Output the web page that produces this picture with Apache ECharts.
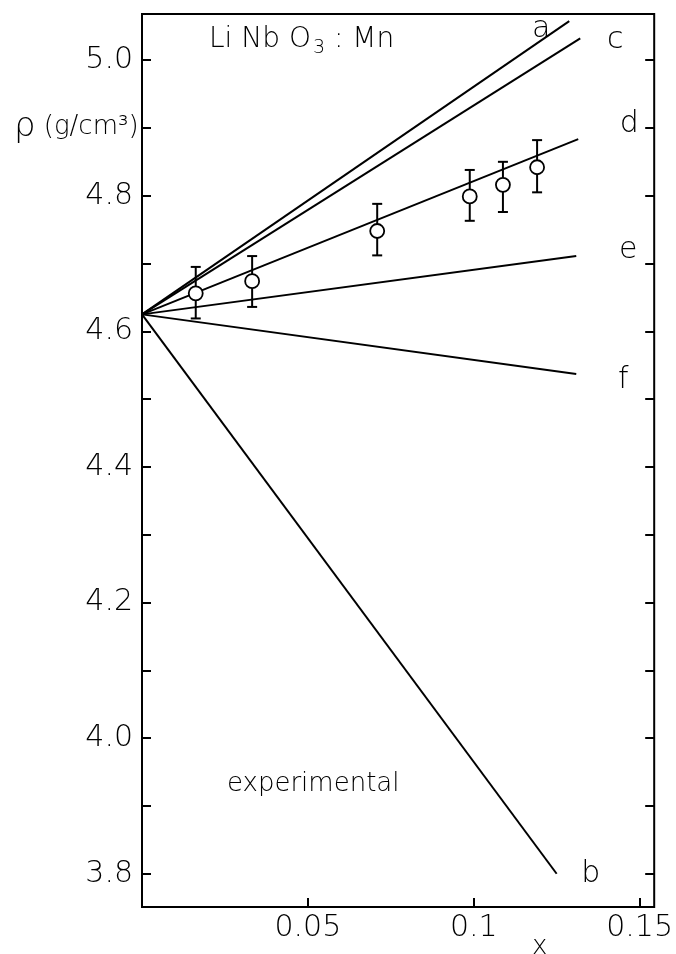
<!DOCTYPE html>
<html>
<head>
<meta charset="utf-8">
<script src="https://cdn.jsdelivr.net/npm/echarts@6/dist/echarts.min.js"></script>
<style>
html,body{margin:0;padding:0;background:#fff;}
#chart{width:676px;height:954px;}
</style>
</head>
<body>
<div id="chart"></div>
<script>
// ---- data ----
const xRange = [0, 0.1544];
const yRange = [3.751, 5.068];
const xTickValues = [0.05, 0.1, 0.15];
const yTickValues = [3.8, 3.9, 4.0, 4.1, 4.2, 4.3, 4.4, 4.5, 4.6, 4.7, 4.8, 4.9, 5.0];
const yLabelValues = [3.8, 4.0, 4.2, 4.4, 4.6, 4.8, 5.0];

const lineOrigin = [0, 4.625];
const lineNames = ['a', 'c', 'd', 'e', 'f', 'b'];
const lineEndX = [0.1288, 0.1321, 0.1315, 0.1309, 0.1309, 0.1250];
const lineEndY = [5.0575, 5.032, 4.8835, 4.711, 4.537, 3.800];

const expX = [0.0162, 0.0332, 0.0709, 0.0988, 0.1088, 0.1191];
const expY = [4.656, 4.674, 4.748, 4.799, 4.816, 4.842];
const expLow = [4.619, 4.636, 4.712, 4.763, 4.776, 4.805];
const expHigh = [4.695, 4.711, 4.788, 4.838, 4.850, 4.882];

// ---- styles ----
const FONT = '"DejaVu Sans"';
const FW = 200;
const labelOffsets = { a: [-28, 8], c: [35, 2], d: [51, -15], e: [52, -6], f: [47, 6], b: [34, 0] };

const lineSeries = lineNames.map((n, i) => ({
  name: n,
  type: 'line',
  symbol: 'none',
  silent: true,
  animation: false,
  lineStyle: { color: '#000', width: 2 },
  data: [lineOrigin, [lineEndX[i], lineEndY[i]]],
  endLabel: {
    show: true,
    formatter: n,
    distance: 0,
    align: 'center',
    verticalAlign: 'middle',
    offset: labelOffsets[n],
    color: '#000',
    fontFamily: FONT,
    fontWeight: FW,
    fontSize: 30
  }
}));

const errData = expX.map((x, i) => [x, expLow[i], expHigh[i]]);

const chart = echarts.init(document.getElementById('chart'), null, { renderer: 'canvas' });
chart.setOption({
  animation: false,
  backgroundColor: '#fff',
  grid: { left: 142, right: 9, top: 14, bottom: 47, show: true, borderColor: '#000', borderWidth: 2 },
  xAxis: {
    type: 'value', min: xRange[0], max: xRange[1],
    axisLine: { show: false },
    splitLine: { show: false },
    axisTick: { show: true, inside: true, length: 9, customValues: xTickValues, lineStyle: { color: '#000', width: 2 } },
    axisLabel: { customValues: xTickValues, color: '#000', fontFamily: FONT, fontWeight: FW, fontSize: 30, margin: 6,
      formatter: v => String(v) }
  },
  yAxis: [{
    type: 'value', min: yRange[0], max: yRange[1],
    axisLine: { show: false },
    splitLine: { show: false },
    axisTick: { show: true, inside: true, length: 9, customValues: yTickValues, lineStyle: { color: '#000', width: 2 } },
    axisLabel: { customValues: yLabelValues, color: '#000', fontFamily: FONT, fontWeight: FW, fontSize: 30, margin: 9,
      formatter: v => v.toFixed(1) }
  }, {
    type: 'value', min: yRange[0], max: yRange[1], position: 'right',
    axisLine: { show: false },
    splitLine: { show: false },
    axisTick: { show: true, inside: true, length: 9, customValues: yTickValues, lineStyle: { color: '#000', width: 2 } },
    axisLabel: { show: false }
  }],
  series: lineSeries.concat([{
    type: 'custom',
    silent: true,
    data: errData,
    z: 3,
    renderItem: function (params, api) {
      const x = api.value(0);
      const lo = api.coord([x, api.value(1)]);
      const hi = api.coord([x, api.value(2)]);
      const w = 5;
      const st = { stroke: '#000', lineWidth: 2 };
      return {
        type: 'group',
        children: [
          { type: 'line', shape: { x1: lo[0], y1: lo[1], x2: hi[0], y2: hi[1] }, style: st },
          { type: 'line', shape: { x1: lo[0] - w, y1: lo[1], x2: lo[0] + w, y2: lo[1] }, style: st },
          { type: 'line', shape: { x1: hi[0] - w, y1: hi[1], x2: hi[0] + w, y2: hi[1] }, style: st }
        ]
      };
    }
  }, {
    type: 'scatter',
    silent: true,
    z: 4,
    symbol: 'circle',
    symbolSize: 14,
    itemStyle: { color: '#fff', borderColor: '#000', borderWidth: 1.8, opacity: 1 },
    data: expX.map((x, i) => [x, expY[i]])
  }]),
  graphic: [
    { type: 'text', left: 209, top: 26, z: 10, style: {
      text: '{n|Li Nb O}{s|3}{n| : Mn}',
      rich: {
        n: { fontFamily: FONT, fontWeight: FW, fontSize: 28, fill: '#000' },
        s: { fontFamily: FONT, fontWeight: FW, fontSize: 19, fill: '#000', verticalAlign: 'bottom', padding: [16, 0, 0, 2] }
      } } },
    { type: 'text', left: 14, top: 110, z: 10, style: {
      text: '{p|ρ}{n| (g/cm³)}',
      rich: {
        p: { fontFamily: FONT, fontWeight: FW, fontSize: 34, fill: '#000' },
        n: { fontFamily: FONT, fontWeight: FW, fontSize: 26, fill: '#000' }
      } } },
    { type: 'text', left: 227, top: 771, z: 10, style: { text: 'experimental', fontFamily: FONT, fontWeight: FW, fontSize: 26, fill: '#000' } },
    { type: 'text', left: 532, top: 934, z: 10, style: { text: 'x', fontFamily: FONT, fontWeight: FW, fontSize: 26, fill: '#000' } }
  ]
});
</script>
</body>
</html>
